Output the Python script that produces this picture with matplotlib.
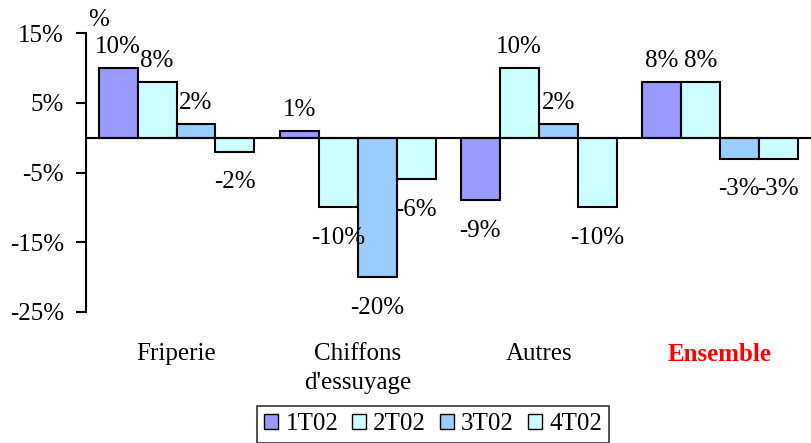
import matplotlib
matplotlib.use("Agg")
import matplotlib.pyplot as plt
import numpy as np

categories = ["Friperie", "Chiffons\nd'essuyage", "Autres", "Ensemble"]
series = ["1T02", "2T02", "3T02", "4T02"]
values = {
    "1T02": [10, 1, -9, 8],
    "2T02": [8, -10, 10, 8],
    "3T02": [2, -20, 2, -3],
    "4T02": [-2, -6, -10, -3],
}
colors = ["#9999FF", "#CCFFFF", "#99CCFF", "#CCFFFF"]
yticks = [15, 5, -5, -15, -25]

plt.rcParams['font.family'] = ['Liberation Serif', 'DejaVu Serif']
fs = 18

fig = plt.figure(figsize=(8.12, 4.43), dpi=100)
ax = fig.add_axes([86/812, 1-312/443, 1-86/812-0.002, (312-33)/443])

x = np.arange(len(categories))
bw = 0.215
for i, s in enumerate(series):
    xs = x + (i - 1.5) * bw
    ax.bar(xs, values[s], width=bw, color=colors[i], edgecolor='black',
           linewidth=1.5, label=s, zorder=2)
    for xi, v in zip(xs, values[s]):
        off = 15 if v >= 0 else -22
        ax.annotate(f"{v}%", (xi, v), xytext=(0, off), textcoords='offset points',
                    ha='center', va='center', fontsize=fs)

ax.set_xlim(-0.5, 3.5)
ax.set_ylim(-25, 15)
ax.set_yticks(yticks)
ax.set_yticklabels([f"{t}%" for t in yticks], fontsize=fs)
ax.tick_params(axis='y', direction='out', length=7, width=1.5, pad=9)
ax.tick_params(axis='x', length=0, labelbottom=False)
ax.spines['top'].set_visible(False)
ax.spines['right'].set_visible(False)
ax.spines['bottom'].set_position(('data', 0))
ax.spines['bottom'].set_linewidth(1.5)
ax.spines['left'].set_linewidth(1.5)
ax.spines['bottom'].set_zorder(3)

for xi, c in zip(x, categories):
    kw = {}
    if c == "Ensemble":
        kw = dict(color='#FF0000', fontweight='bold')
    ax.text(xi, -0.11, c, transform=ax.get_xaxis_transform(), ha='center', va='top',
            fontsize=fs, linespacing=1.45, **kw)

fig.text(88/812, 1-20/443, "%", fontsize=fs, ha='left', va='center')

leg = fig.legend(loc='upper center', bbox_to_anchor=(433/812, 1-406/443), ncol=4,
                 fontsize=fs, frameon=True, fancybox=False, edgecolor='black',
                 handlelength=0.55, handleheight=0.55, handletextpad=0.3,
                 columnspacing=0.55, borderpad=0.3, borderaxespad=0)
leg.get_frame().set_linewidth(1.2)
for h in leg.legend_handles:
    h.set_linewidth(1.0)

fig.savefig("out.png", dpi=100)
